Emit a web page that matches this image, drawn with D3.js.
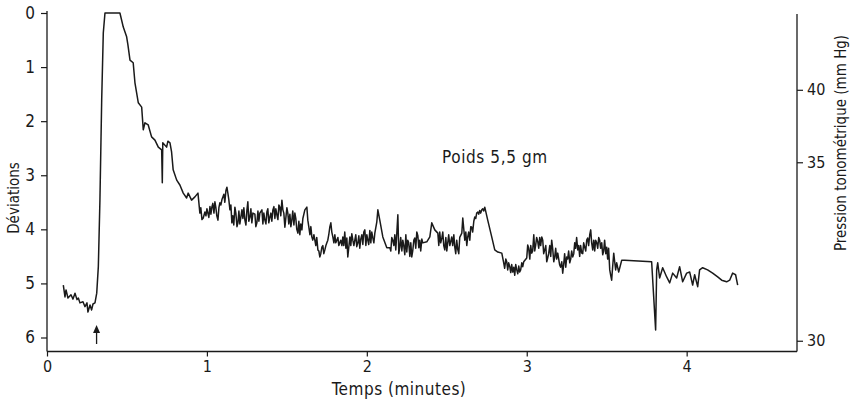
<!DOCTYPE html>
<html>
<head>
<meta charset="utf-8">
<script src="https://cdn.jsdelivr.net/npm/d3@7"></script>
<style>
  html, body { margin: 0; padding: 0; background: #fff; }
  svg { display: block; }
  text { font-family: "DejaVu Sans Condensed", "DejaVu Sans", sans-serif; fill: #1a1a1a; }
</style>
</head>
<body>
<svg id="chart" width="851" height="405"></svg>
<script>
// Recording time (minutes) and deflection (déviations) of the tonometer trace
const timeMin = [
  0.102, 0.1125, 0.119, 0.131, 0.15, 0.1625, 0.175, 0.1875, 0.196, 0.206,
  0.225, 0.2375, 0.25, 0.256, 0.269, 0.279, 0.2875, 0.30, 0.311, 0.321,
  0.331, 0.342, 0.352, 0.3625, 0.456, 0.477, 0.498, 0.506, 0.519, 0.539,
  0.55, 0.571, 0.592, 0.602, 0.6125, 0.633, 0.654, 0.675, 0.696, 0.717,
  0.721, 0.724, 0.748, 0.756, 0.769, 0.779, 0.789, 0.811, 0.831, 0.852,
  0.873, 0.883, 0.904, 0.925, 0.944, 0.956, 0.977, 0.9875, 1.006, 1.031,
  1.05, 1.069, 1.081, 1.10, 1.125, 1.131, 1.144, 1.156, 1.175, 1.194,
  1.219, 1.2375, 1.256, 1.269, 1.2875, 1.3125, 1.331, 1.3625, 1.375, 1.394,
  1.4125, 1.4375, 1.456, 1.469, 1.475, 1.4875, 1.506, 1.531, 1.55, 1.569,
  1.594, 1.6125, 1.625, 1.631, 1.656, 1.675, 1.694, 1.706, 1.719, 1.7375,
  1.756, 1.775, 1.7875, 1.8125, 1.831, 1.85, 1.875, 1.881, 1.894, 1.9125,
  1.925, 1.944, 1.969, 1.9875, 2.006, 2.031, 2.05, 2.0625, 2.069, 2.081,
  2.10, 2.125, 2.144, 2.1625, 2.1875, 2.194, 2.206, 2.225, 2.2375, 2.256,
  2.281, 2.30, 2.3125, 2.325, 2.35, 2.375, 2.394, 2.406, 2.425, 2.444,
  2.469, 2.4875, 2.506, 2.531, 2.55, 2.569, 2.594, 2.60, 2.6125, 2.631,
  2.656, 2.675, 2.694, 2.719, 2.7375, 2.756, 2.781, 2.80, 2.819, 2.844,
  2.856, 2.875, 2.894, 2.9125, 2.9375, 2.956, 2.975, 3.00, 3.006, 3.031,
  3.044, 3.056, 3.069, 3.094, 3.1125, 3.131, 3.156, 3.175, 3.194, 3.206,
  3.225, 3.25, 3.269, 3.2875, 3.30, 3.319, 3.344, 3.3625, 3.381, 3.40,
  3.4125, 3.4375, 3.456, 3.475, 3.50, 3.519, 3.531, 3.544, 3.5625, 3.575,
  3.594, 3.6125, 3.781, 3.806, 3.8125, 3.819, 3.831, 3.85, 3.875, 3.894,
  3.9125, 3.9375, 3.956, 3.975, 4.00, 4.019, 4.0375, 4.05, 4.069, 4.081,
  4.10, 4.131, 4.1625, 4.194, 4.219, 4.25, 4.269, 4.2875, 4.306, 4.319
];
const deviation = [
  5.03, 5.25, 5.12, 5.27, 5.21, 5.29, 5.18, 5.30, 5.27, 5.36,
  5.34, 5.43, 5.36, 5.53, 5.40, 5.49, 5.38, 5.36, 5.18, 4.69,
  3.46, 1.61, 0.37, 0.00, 0.00, 0.26, 0.44, 0.59, 0.87, 0.92,
  1.29, 1.66, 1.74, 2.16, 2.03, 2.07, 2.29, 2.35, 2.48, 2.53,
  3.14, 2.40, 2.48, 2.37, 2.40, 2.57, 2.90, 3.09, 3.18, 3.33,
  3.42, 3.33, 3.46, 3.40, 3.33, 3.70, 3.79, 3.68, 3.70, 3.59,
  3.49, 3.83, 3.51, 3.40, 3.22, 3.33, 3.64, 3.88, 3.59, 3.88,
  3.64, 3.83, 3.49, 3.77, 3.70, 3.88, 3.70, 3.83, 3.68, 3.77,
  3.64, 3.73, 3.59, 3.46, 3.64, 3.96, 3.70, 3.83, 3.70, 4.07,
  4.01, 3.64, 3.59, 3.83, 4.14, 4.20, 4.38, 4.51, 4.33, 4.38,
  4.20, 3.88, 4.14, 4.20, 4.25, 4.14, 4.16, 4.51, 4.14, 4.20,
  4.20, 4.25, 4.10, 4.01, 4.20, 4.05, 4.07, 3.86, 3.64, 3.83,
  4.14, 4.34, 4.34, 4.20, 4.07, 3.73, 4.33, 4.20, 4.47, 4.20,
  4.51, 4.16, 4.05, 4.34, 4.25, 4.23, 4.14, 3.88, 4.01, 4.07,
  4.16, 4.38, 4.25, 4.14, 4.33, 4.38, 4.07, 3.79, 4.20, 4.14,
  3.96, 3.77, 3.68, 3.64, 3.59, 3.83, 4.14, 4.38, 4.42, 4.44,
  4.62, 4.60, 4.69, 4.79, 4.75, 4.79, 4.69, 4.53, 4.29, 4.44,
  4.10, 4.29, 4.23, 4.14, 4.38, 4.53, 4.20, 4.51, 4.44, 4.66,
  4.81, 4.51, 4.62, 4.51, 4.25, 4.38, 4.44, 4.33, 4.16, 4.01,
  4.38, 4.25, 4.20, 4.47, 4.33, 4.75, 4.94, 4.44, 4.62, 4.79,
  4.57, 4.57, 4.60, 5.86, 4.75, 4.62, 4.90, 4.71, 4.88, 4.99,
  4.81, 4.90, 4.69, 4.97, 4.81, 4.79, 5.03, 4.84, 5.06, 4.75,
  4.71, 4.75, 4.81, 4.88, 4.94, 4.97, 4.94, 4.81, 4.84, 5.03
];

// Fine pen flutter read between the main readings (time, deviation)
const flutterTime = [
  0.962, 0.969, 0.994, 1.000, 1.012, 1.019, 1.025, 1.037, 1.044, 1.056,
  1.062, 1.075, 1.087, 1.094, 1.106, 1.112, 1.119, 1.137,
  1.150, 1.162, 1.168, 1.181, 1.188, 1.200, 1.206, 1.225, 1.231, 1.244,
  1.250, 1.262, 1.275, 1.281, 1.300, 1.306, 1.319, 1.325, 1.344, 1.350,
  1.356, 1.369, 1.381, 1.387, 1.400, 1.406, 1.419, 1.425, 1.431, 1.444,
  1.450, 1.462, 1.481, 1.494, 1.500, 1.512, 1.519, 1.525, 1.537, 1.544,
  1.556, 1.562, 1.575, 1.581, 1.587, 1.600,
  1.637, 1.644, 1.650, 1.662, 1.669, 1.681, 1.687, 1.700, 1.712, 1.725,
  1.731, 1.744, 1.750, 1.762, 1.769, 1.781, 1.794, 1.800, 1.806, 1.819,
  1.825, 1.837, 1.844,
  1.856, 1.862, 1.869, 1.900, 1.906, 1.919, 1.931, 1.937, 1.950, 1.956,
  1.962, 1.975, 1.981, 1.994, 2.000, 2.012, 2.019, 2.025, 2.037, 2.044,
  2.150, 2.156, 2.169, 2.175, 2.181, 2.200, 2.212, 2.219, 2.231, 2.244,
  2.250, 2.262, 2.269, 2.275, 2.287, 2.294, 2.306, 2.319, 2.331, 2.337,
  2.344,
  2.450, 2.456, 2.462, 2.475, 2.481, 2.494, 2.500, 2.512, 2.519, 2.537,
  2.544, 2.556, 2.562, 2.575, 2.581,
  2.619, 2.625, 2.637, 2.644, 2.650, 2.662, 2.669, 2.681, 2.687, 2.700,
  2.706, 2.712, 2.725, 2.731,
  2.862, 2.869, 2.881, 2.887, 2.900, 2.906, 2.919, 2.925, 2.931, 2.944,
  2.950, 2.962, 2.969, 2.981,
  3.012, 3.019, 3.025, 3.037, 3.050, 3.062, 3.075, 3.081, 3.087, 3.100,
  3.106, 3.119, 3.125, 3.137, 3.144, 3.150, 3.162, 3.169, 3.181, 3.187,
  3.200, 3.212, 3.219, 3.231, 3.237, 3.244, 3.256, 3.262, 3.275, 3.281,
  3.294, 3.306, 3.312, 3.325, 3.331, 3.337, 3.350, 3.356, 3.369, 3.375,
  3.387, 3.394, 3.406, 3.419, 3.425, 3.431, 3.444, 3.450, 3.462, 3.469,
  3.481, 3.487, 3.494, 3.506, 3.512, 3.525, 3.537, 3.550, 3.556
];
const flutterDeviation = [
  3.60, 3.82, 3.75, 3.62, 3.78, 3.58, 3.72, 3.52, 3.70, 3.60,
  3.75, 3.60, 3.55, 3.45, 3.35, 3.50, 3.28, 3.45,
  3.55, 3.75, 3.92, 3.70, 3.95, 3.66, 3.90, 3.80, 3.60, 3.92,
  3.65, 3.85, 3.62, 3.88, 3.72, 3.95, 3.66, 3.85, 3.64, 3.90,
  3.70, 3.90, 3.62, 3.88, 3.70, 3.85, 3.58, 3.80, 3.62, 3.82,
  3.55, 3.75, 3.70, 3.78, 3.60, 3.90, 3.72, 3.95, 3.66, 3.92,
  3.80, 4.00, 3.85, 4.10, 3.90, 3.80,
  3.95, 4.10, 3.95, 4.20, 4.10, 4.30, 4.15, 4.40, 4.45, 4.30,
  4.45, 4.30, 4.25, 4.10, 3.95, 4.05, 4.25, 4.10, 4.25, 4.15,
  4.30, 4.20, 4.30,
  4.30, 4.05, 4.35, 4.30, 4.08, 4.30, 4.10, 4.32, 4.12, 4.35,
  4.18, 4.28, 4.05, 4.30, 4.10, 4.28, 4.02, 4.25, 4.15, 4.25,
  4.40, 4.15, 4.30, 4.10, 4.38, 4.45, 4.15, 4.40, 4.30, 4.10,
  4.42, 4.25, 4.50, 4.25, 4.40, 4.20, 4.35, 4.12, 4.20, 4.40,
  4.18,
  4.30, 4.05, 4.25, 4.05, 4.30, 4.15, 4.40, 4.10, 4.30, 4.30,
  4.10, 4.45, 4.20, 4.45, 4.15,
  4.05, 4.30, 4.05, 4.20, 3.95, 4.05, 3.85, 3.80, 3.70, 3.72,
  3.65, 3.70, 3.62, 3.66,
  4.72, 4.55, 4.75, 4.62, 4.80, 4.65, 4.70, 4.85, 4.65, 4.82,
  4.68, 4.75, 4.62, 4.60,
  4.35, 4.55, 4.30, 4.40, 4.40, 4.15, 4.35, 4.15, 4.30, 4.20,
  4.45, 4.30, 4.60, 4.45, 4.30, 4.50, 4.35, 4.60, 4.35, 4.55,
  4.55, 4.70, 4.60, 4.65, 4.45, 4.70, 4.55, 4.40, 4.55, 4.40,
  4.45, 4.35, 4.15, 4.30, 4.50, 4.30, 4.45, 4.25, 4.40, 4.20,
  4.30, 4.10, 4.25, 4.20, 4.40, 4.20, 4.35, 4.15, 4.35, 4.25,
  4.40, 4.20, 4.45, 4.55, 4.35, 4.85, 4.70, 4.60, 4.75
];

const xTicks = [0, 1, 2, 3, 4];
const yTicks = [0, 1, 2, 3, 4, 5, 6];
const pressureTicks = [30, 35, 40];
// deflection positions of the pressure calibration marks (non-linear gauge)
const pressureAsDeviation = [6.06, 2.76, 1.42];
const stimulusTime = 0.31;

const svg = d3.select("#chart");

const x = d3.scaleLinear().domain([0, 4.69]).range([47, 797]);
const y = d3.scaleLinear().domain([0, 6]).range([13, 337.5]);
const yRight = d3.scaleLinear()
  .domain(pressureTicks)
  .range(pressureAsDeviation.map(y));

const ink = "#1a1a1a";

// frame lines
const yBottom = Math.round(y(6.25)) + 0.5;
svg.append("line").attr("x1", x(0)).attr("x2", x(0))
  .attr("y1", 11).attr("y2", yBottom).attr("stroke", ink).attr("stroke-width", 1.3);
svg.append("line").attr("x1", x(0)).attr("x2", x(4.69))
  .attr("y1", yBottom).attr("y2", yBottom).attr("stroke", ink).attr("stroke-width", 1.3);
svg.append("line").attr("x1", x(4.69)).attr("x2", x(4.69))
  .attr("y1", 14).attr("y2", yBottom).attr("stroke", ink).attr("stroke-width", 1.3);

// left axis
const gLeft = svg.append("g").attr("transform", `translate(${x(0)},0)`)
  .call(d3.axisLeft(y).tickValues(yTicks).tickSize(6).tickPadding(6).tickFormat(d3.format("d")));
gLeft.select(".domain").remove();
gLeft.selectAll(".tick line").attr("stroke", ink).attr("stroke-width", 1.2);
gLeft.selectAll(".tick text").attr("font-size", 17).style("fill", ink);

// bottom axis
const gBottom = svg.append("g").attr("transform", `translate(0,${yBottom})`)
  .call(d3.axisBottom(x).tickValues(xTicks).tickSize(5).tickPadding(4).tickFormat(d3.format("d")));
gBottom.select(".domain").remove();
gBottom.selectAll(".tick line").attr("stroke", ink).attr("stroke-width", 1.2);
gBottom.selectAll(".tick text").attr("font-size", 16).style("fill", ink);

// right axis (pressure)
const gRight = svg.append("g").attr("transform", `translate(${x(4.69)},0)`)
  .call(d3.axisRight(yRight).tickValues(pressureTicks).tickSize(6).tickPadding(4).tickFormat(d3.format("d")));
gRight.select(".domain").remove();
gRight.selectAll(".tick line").attr("stroke", ink).attr("stroke-width", 1.2);
gRight.selectAll(".tick text").attr("font-size", 16).style("fill", ink);

// axis titles
svg.append("text").attr("x", 399).attr("y", 395)
  .attr("text-anchor", "middle").attr("font-size", 17).attr("letter-spacing", 0.5)
  .text("Temps (minutes)");
svg.append("text").attr("transform", "translate(19,198) rotate(-90)")
  .attr("text-anchor", "middle").attr("font-size", 15).text("Déviations");
svg.append("text").attr("transform", "translate(846,143) rotate(-90)")
  .attr("text-anchor", "middle").attr("font-size", 15).text("Pression  tonométrique (mm Hg)");

// annotation
svg.append("text").attr("x", 442).attr("y", 163).attr("font-size", 17)
  .attr("letter-spacing", 0.6).text("Poids  5,5 gm");

// trace: main readings merged with the flutter readings in time order
const points = timeMin.map((t, i) => [t, deviation[i]])
  .concat(flutterTime.map((t, i) => [t, flutterDeviation[i]]))
  .sort((a, b) => a[0] - b[0]);
svg.append("path")
  .datum(points)
  .attr("fill", "none")
  .attr("stroke", ink)
  .attr("stroke-width", 1.5)
  .attr("stroke-linejoin", "round")
  .attr("d", d3.line().x(d => x(d[0])).y(d => y(d[1])));

// stimulus arrow
const ax = x(stimulusTime);
svg.append("line").attr("x1", ax).attr("x2", ax).attr("y1", 344).attr("y2", 330)
  .attr("stroke", ink).attr("stroke-width", 1.3);
svg.append("path")
  .attr("d", `M${ax - 3.5},${333} L${ax},${325} L${ax + 3.5},${333} Z`)
  .attr("fill", ink);
</script>
</body>
</html>
